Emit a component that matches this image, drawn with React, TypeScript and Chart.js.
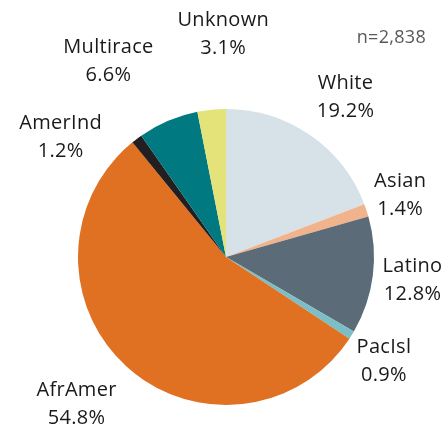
import React, { useEffect, useRef } from "react";
import { Chart, registerables } from "chart.js";

Chart.register(...registerables);

const categories = ["White", "Asian", "Latino", "PacIsl", "AfrAmer", "AmerInd", "Multirace", "Unknown"];
const values = [19.2, 1.4, 12.8, 0.9, 54.8, 1.2, 6.6, 3.1];
const colors = ["#d6e1e8", "#f1b38b", "#5b6c78", "#7cbec6", "#e07022", "#231f20", "#007a80", "#e3e379"];
const labelNudges: [number, number][] = [
  [10, -1], [-9, -1], [-5, -1], [-6, 2], [-20, 4], [-49, 34], [-42, -18], [16, -31],
];
const sampleNote = "n=2,838";

const FONT = '"Open Sans", sans-serif';

const labelPlugin = {
  id: "outerLabels",
  afterDraw(chart: any) {
    const ctx = chart.ctx;
    const meta = chart.getDatasetMeta(0);
    ctx.save();
    ctx.fillStyle = "#1a1a1a";
    ctx.font = `20px ${FONT}`;
    (ctx as any).letterSpacing = "0.3px";
    ctx.textAlign = "center";
    ctx.textBaseline = "middle";
    meta.data.forEach((arc: any, i: number) => {
      const mid = (arc.startAngle + arc.endAngle) / 2;
      const r = arc.outerRadius + 45;
      const x = arc.x + Math.cos(mid) * r + labelNudges[i][0];
      const y = arc.y + Math.sin(mid) * r + labelNudges[i][1];
      ctx.fillText(categories[i], x, y - 14);
      ctx.fillText(values[i].toFixed(1) + "%", x, y + 14);
    });
    ctx.fillStyle = "#595959";
    ctx.font = `18px ${FONT}`;
    (ctx as any).letterSpacing = "0.3px";
    ctx.textAlign = "right";
    ctx.fillText(sampleNote, 426, 38);
    ctx.restore();
  },
};

export default function App() {
  const ref = useRef<HTMLCanvasElement>(null);
  useEffect(() => {
    if (!ref.current) return;
    const chart = new Chart(ref.current, {
      type: "pie",
      data: {
        labels: categories,
        datasets: [{ data: values, backgroundColor: colors, borderWidth: 0 }],
      },
      options: {
        animation: false,
        responsive: false,
        layout: { padding: { left: 78, right: 74, top: 109, bottom: 21 } },
        plugins: { legend: { display: false }, tooltip: { enabled: false } },
      },
      plugins: [labelPlugin],
    });
    return () => chart.destroy();
  }, []);
  return (
    <div style={{ position: "fixed", left: 0, top: 0, width: 448, height: 426, background: "#fff" }}>
      <canvas ref={ref} width={448} height={426} />
    </div>
  );
}
